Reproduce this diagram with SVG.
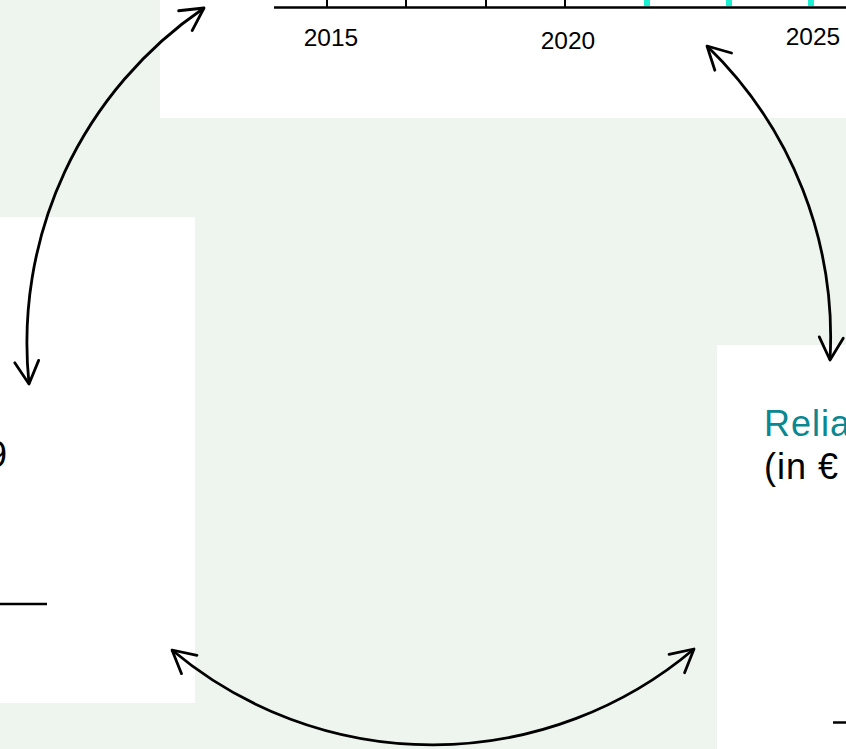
<svg xmlns="http://www.w3.org/2000/svg" width="846" height="749" viewBox="0 0 846 749">
<style>
.panel{fill:#ffffff}
.axis{stroke:#000;stroke-width:2.5;fill:none}
.tick{stroke:#000;stroke-width:2}
.tickc{fill:#1cf0d2}
.yr{font-family:"Liberation Sans",Arial,sans-serif;font-size:24.5px;fill:#000;text-anchor:middle}
.big{font-family:"Liberation Sans",Arial,sans-serif;font-size:36px;letter-spacing:1px;fill:#000}
.teal{fill:#0a8791}
.conn{fill:none;stroke:#000;stroke-width:2.8;marker-start:url(#ah);marker-end:url(#ah)}
</style>
<defs>
<marker id="ah" markerUnits="userSpaceOnUse" markerWidth="40" markerHeight="40" refX="0" refY="0" viewBox="-25 -20 30 40" orient="auto-start-reverse" overflow="visible">
<path d="M -22.5 -12 L 0 0 L -22.5 12" fill="none" stroke="#000" stroke-width="2.8" stroke-linecap="round" stroke-linejoin="round"/>
</marker>
</defs>
<rect x="0" y="0" width="846" height="749" fill="#eef5ef"/>
<g id="timeline">
<rect class="panel" x="160" y="0" width="686" height="118"/>
<line class="axis" x1="274" y1="7.5" x2="846" y2="7.5"/>
<line class="tick" x1="327" y1="0" x2="327" y2="7"/>
<line class="tick" x1="406" y1="0" x2="406" y2="7"/>
<line class="tick" x1="486" y1="0" x2="486" y2="7"/>
<line class="tick" x1="565" y1="0" x2="565" y2="7"/>
<rect class="tickc" x="644" y="0" width="6" height="6"/>
<rect class="tickc" x="726" y="0" width="6" height="6"/>
<rect class="tickc" x="808" y="0" width="6" height="6"/>
<text class="yr" x="331" y="46">2015</text>
<text class="yr" x="568" y="49">2020</text>
<text class="yr" x="813" y="45">2025</text>
</g>
<g id="panel-left">
<rect class="panel" x="0" y="217" width="195" height="486"/>
<text class="big" x="8" y="467" text-anchor="end" font-size="32" letter-spacing="0">9</text>
<line x1="0" y1="604" x2="47" y2="604" stroke="#000" stroke-width="2.5"/>
</g>
<g id="panel-right">
<rect class="panel" x="717" y="345" width="129" height="404"/>
<text class="big teal" x="764" y="436">Relia</text>
<text class="big" x="764" y="479">(in €</text>
<line x1="833" y1="722.5" x2="846" y2="722.5" stroke="#000" stroke-width="2.5"/>
</g>
<g id="connectors">
<path class="conn" d="M 204 8 A 405 405 0 0 0 29 384"/>
<path class="conn" d="M 707 46 A 405 405 0 0 1 830 360"/>
<path class="conn" d="M 172 650 A 405 405 0 0 0 694 649"/>
</g>
</svg>
